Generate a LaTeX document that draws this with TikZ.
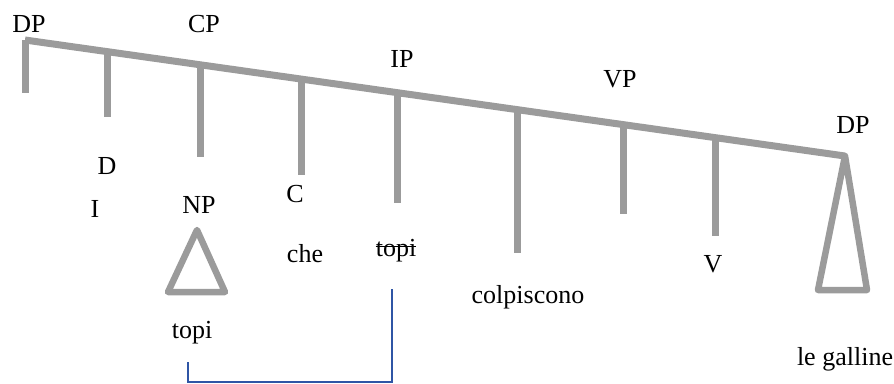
\documentclass[tikz,border=0pt]{standalone}
\usepackage{fontspec}
\setmainfont{Liberation Serif}
\definecolor{treegray}{RGB}{155,155,155}
\definecolor{moveblue}{RGB}{47,85,165}
\begin{document}
\begin{tikzpicture}[x=1pt,y=-1pt,
  branch/.style={draw=treegray, line width=7pt},
  tri/.style={draw=treegray, line width=6.5pt, line join=round},
  lbl/.style={anchor=base, inner sep=0pt, font=\fontsize{26}{30}\selectfont},
  movement/.style={draw=moveblue, line width=1.6pt}]
\useasboundingbox (0,0) rectangle (894,383);
% spine
\coordinate (top) at (25,40);
\coordinate (end) at (845,156);
\draw[branch] (top) -- (end);
% stems
\coordinate (a1) at (25,40);    \coordinate (b1) at (25,93);
\coordinate (a2) at (107,51.6); \coordinate (b2) at (107,117);
\coordinate (a3) at (200,64.8); \coordinate (b3) at (200,157);
\coordinate (a4) at (301,79);   \coordinate (b4) at (301,175);
\coordinate (a5) at (397,92.6); \coordinate (b5) at (397,203);
\coordinate (a6) at (517,109.6);\coordinate (b6) at (517,253);
\coordinate (a7) at (623,124.6);\coordinate (b7) at (623,214);
\coordinate (a8) at (715,137.6);\coordinate (b8) at (715,236);
\foreach \i in {1,...,8} { \draw[branch] (a\i) -- (b\i); }
% triangles
\draw[tri] (197,230) -- (168,292) -- (225,292) -- cycle;
\draw[tri] (end) -- (818,290) -- (867,290) -- cycle;
% labels
\node[lbl] (dp1) at (29,32) {DP};
\node[lbl] (cp) at (204,32) {CP};
\node[lbl] (ip) at (402,67) {IP};
\node[lbl] (vp) at (620,87) {VP};
\node[lbl] (dp2) at (853,133) {DP};
\node[lbl] (d) at (107,174) {D};
\node[lbl] (i) at (95,217) {I};
\node[lbl] (np) at (199,213) {NP};
\node[lbl] (c) at (295,202) {C};
\node[lbl] (che) at (305,262) {che};
\node[lbl] (tr) at (396,256) {topi};
\draw[line width=1.3pt] ([yshift=9.5pt]tr.base west) -- ([yshift=9.5pt]tr.base east);
\node[lbl] (topi) at (192,338) {topi};
\node[lbl] (colp) at (528,303) {colpiscono};
\node[lbl] (v) at (713,272) {V};
\node[lbl] (gall) at (845,365) {le galline};
% movement line
\coordinate (m1) at (188,362);
\coordinate (m2) at (392,289);
\draw[movement] (m1) -- (188,382) -- (392,382) -- (m2);
\end{tikzpicture}
\end{document}
